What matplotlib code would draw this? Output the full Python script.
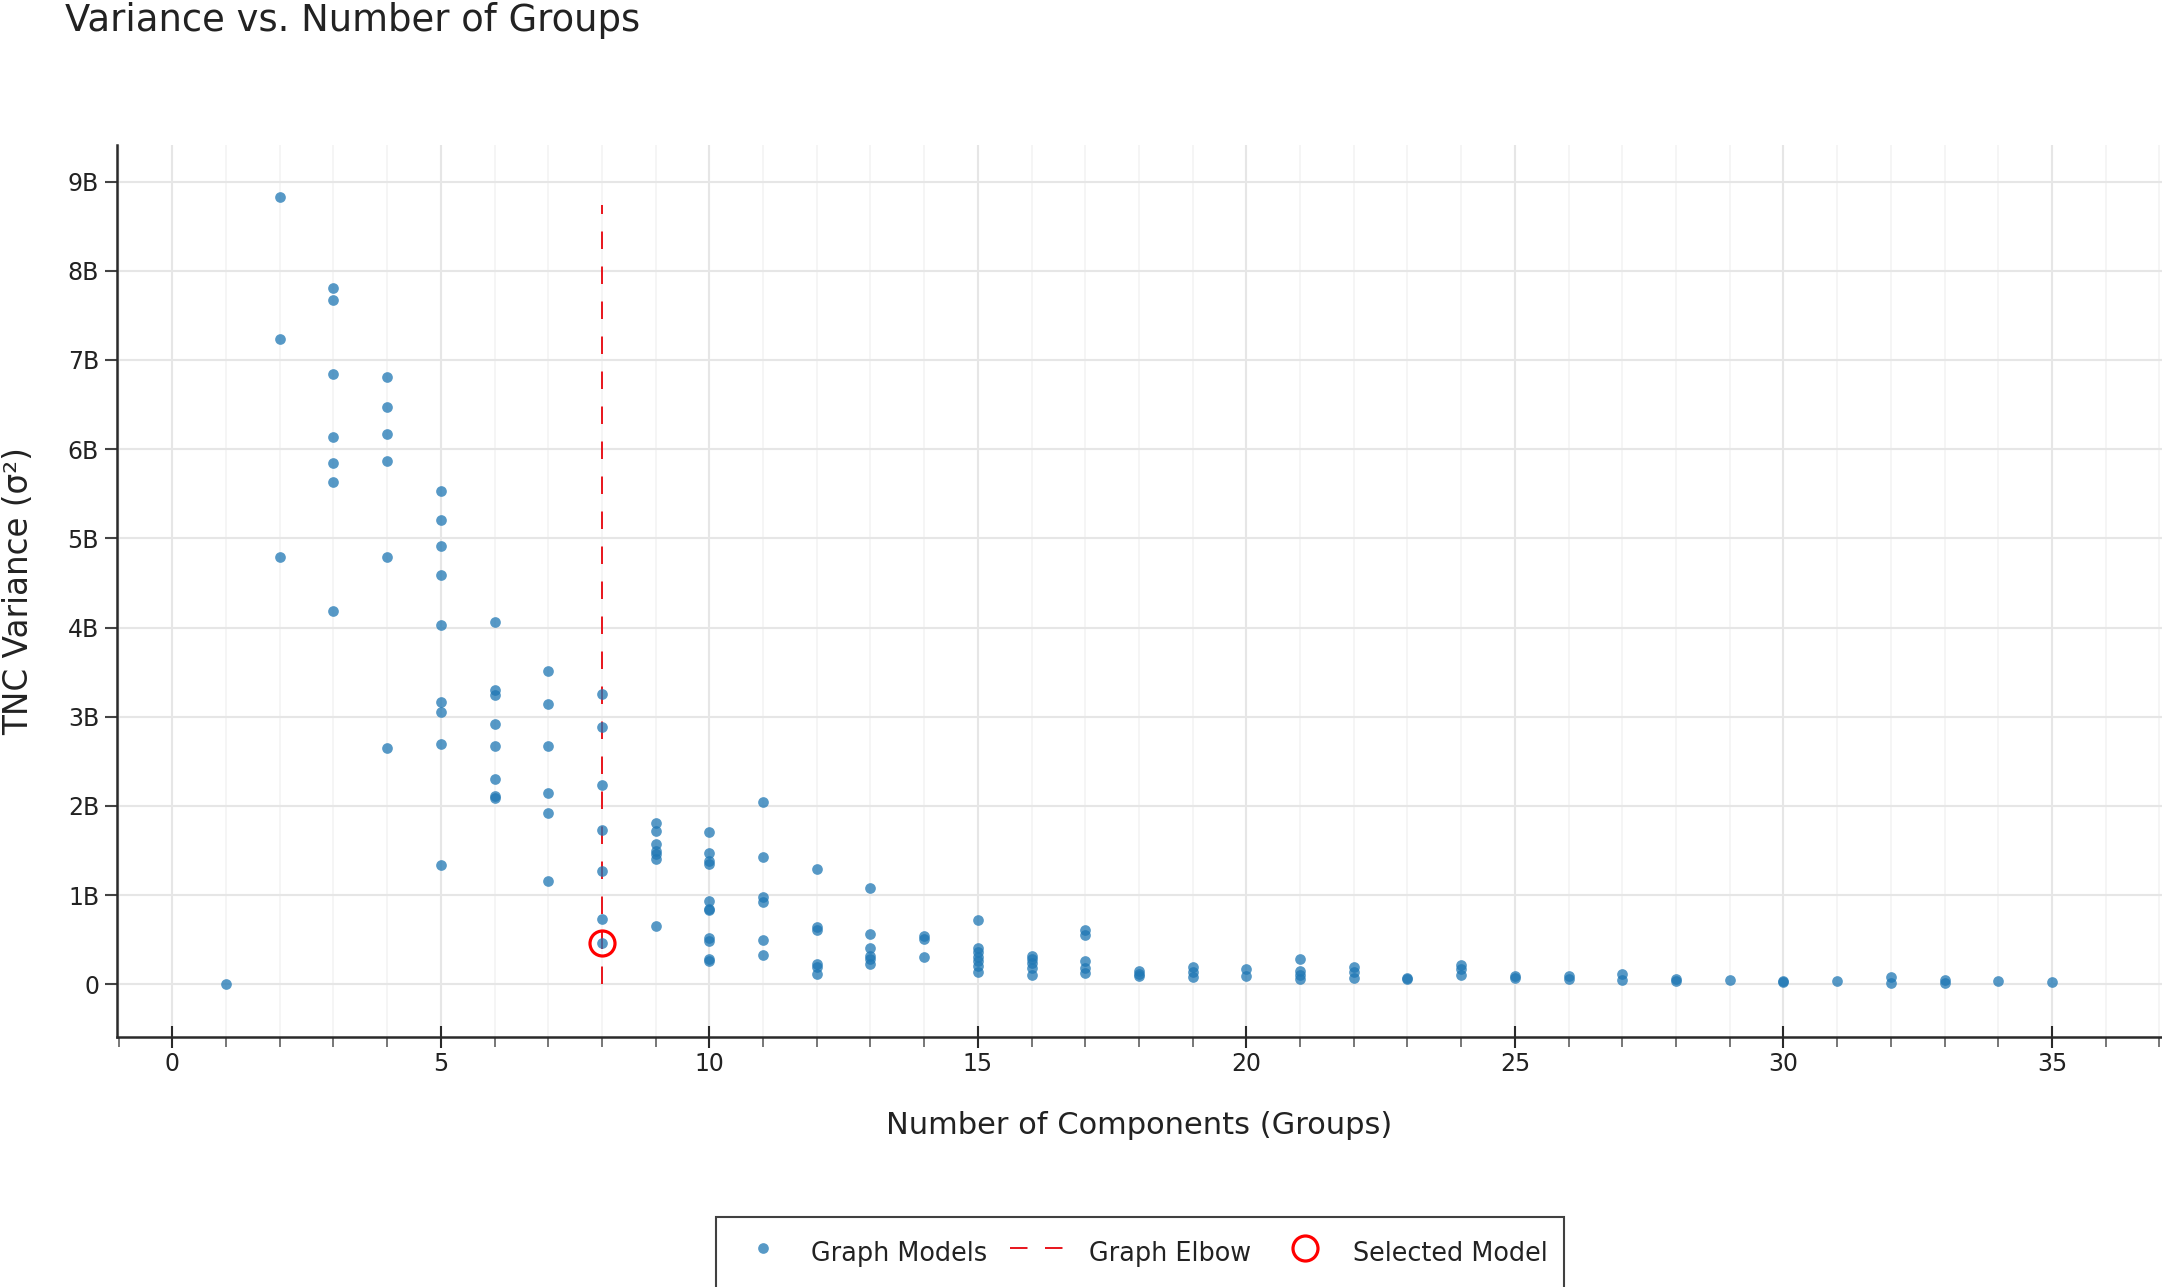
#!/usr/bin/env python3
"""Elbow plot: TNC variance against number of groups."""
import matplotlib
matplotlib.use("Agg")
import matplotlib.pyplot as plt
from matplotlib.lines import Line2D
from matplotlib.ticker import FuncFormatter, MultipleLocator

# number of components (groups) per model column
group_counts = list(range(1, 36))

# TNC variance of every model at each group count, in billions
variance_b = [
    [0.0],
    [8.83, 7.235, 4.79],
    [7.81, 7.67, 6.845, 6.14, 5.84, 5.63, 4.19],
    [6.81, 6.47, 6.17, 5.87, 4.79, 2.65],
    [5.53, 5.21, 4.91, 4.59, 4.03, 3.17, 3.05, 2.70, 1.34],
    [4.06, 3.30, 3.24, 2.92, 2.67, 2.30, 2.11, 2.09],
    [3.51, 3.14, 2.67, 2.14, 1.92, 1.16],
    [3.26, 2.89, 2.23, 1.73, 1.27, 0.73, 0.46],
    [1.81, 1.72, 1.57, 1.49, 1.46, 1.40, 0.65],
    [1.71, 1.47, 1.38, 1.35, 0.93, 0.85, 0.83, 0.52, 0.49, 0.28, 0.26],
    [2.05, 1.43, 0.98, 0.92, 0.50, 0.33],
    [1.29, 0.64, 0.61, 0.23, 0.20, 0.12],
    [1.08, 0.57, 0.41, 0.32, 0.29, 0.23],
    [0.54, 0.51, 0.31],
    [0.72, 0.41, 0.36, 0.31, 0.26, 0.21, 0.14],
    [0.32, 0.29, 0.24, 0.18, 0.11],
    [0.61, 0.55, 0.26, 0.18, 0.13],
    [0.15, 0.12, 0.09],
    [0.19, 0.14, 0.08],
    [0.17, 0.09],
    [0.285, 0.155, 0.10, 0.06],
    [0.20, 0.14, 0.07],
    [0.07, 0.065],
    [0.22, 0.17, 0.10],
    [0.09, 0.07],
    [0.09, 0.06],
    [0.12, 0.045],
    [0.06, 0.035],
    [0.045],
    [0.04, 0.03],
    [0.04],
    [0.08, 0.02],
    [0.045, 0.02],
    [0.035],
    [0.03],
]

elbow_k = 8
elbow_span_b = [0.0, 8.74]
selected_k = 8
selected_var_b = 0.46

W, H = 2162, 1287
fig = plt.figure(figsize=(W / 100, H / 100), dpi=100)
ax = fig.add_axes([117 / W, 1 - 1037 / H, 1 - 117 / W, (1037 - 145) / H])

xs, ys = [], []
for k, vals in zip(group_counts, variance_b):
    for v in vals:
        xs.append(k)
        ys.append(v * 1e9)

ax.plot(xs, ys, "o", ms=7.7, mew=0, color="#1f77b4", alpha=0.75, zorder=3)
ax.plot([elbow_k, elbow_k], [y * 1e9 for y in elbow_span_b], color="#e8141c",
        lw=1.4, dashes=(9, 9), zorder=2)
ax.plot([selected_k], [selected_var_b * 1e9], "o", ms=18, mfc="none",
        mec="#ff0000", mew=2.3, zorder=4)

ax.set_xlim(-1.03, 37.05)
ax.set_ylim(-0.59e9, 9.41e9)

ax.xaxis.set_major_locator(MultipleLocator(5))
ax.xaxis.set_minor_locator(MultipleLocator(1))
ax.yaxis.set_major_locator(MultipleLocator(1e9))
ax.yaxis.set_major_formatter(
    FuncFormatter(lambda v, p: "0" if abs(v) < 1 else f"{v / 1e9:.0f}B"))

ax.grid(which="major", axis="x", color="#e6e6e6", lw=1.5, zorder=0)
ax.grid(which="minor", axis="x", color="#f3f3f3", lw=1.1, zorder=0)
ax.grid(which="major", axis="y", color="#e6e6e6", lw=1.5, zorder=0)
ax.set_axisbelow(True)

for side in ("top", "right"):
    ax.spines[side].set_visible(False)
for side in ("left", "bottom"):
    ax.spines[side].set_color("#2a2a2a")
    ax.spines[side].set_linewidth(1.8)

ax.tick_params(axis="x", which="major", direction="inout", length=16.5,
               width=1.5, color="#2a2a2a", pad=2.5, labelsize=17,
               labelcolor="#222222")
ax.tick_params(axis="x", which="minor", direction="out", length=7.2,
               width=1.4, color="#777777")
ax.tick_params(axis="y", which="major", direction="out", length=8.6,
               width=1.5, color="#444444", pad=4.3, labelsize=17,
               labelcolor="#222222")

ax.set_xlabel("Number of Components (Groups)", fontsize=22, color="#222222")
ax.xaxis.set_label_coords(0.5, -(1125 - 1037) / (1037 - 145))
ax.xaxis.label.set_va("center")
ax.set_ylabel("TNC Variance (σ²)", fontsize=23.5, color="#222222")
ax.yaxis.set_label_coords((19 - 117) / (W - 117), 0.5)
ax.yaxis.label.set_va("center")

fig.text(65 / W, 1 - 31 / H, "Variance vs. Number of Groups", fontsize=26.6,
         color="#222222", va="baseline", ha="left")

handles = [
    Line2D([], [], ls="none", marker="o", ms=7.7, mew=0, color="#1f77b4",
           alpha=0.75),
    Line2D([], [], color="#e8141c", lw=1.4, dashes=(9, 9)),
    Line2D([], [], ls="none", marker="o", ms=18, mfc="none", mec="#ff0000",
           mew=2.3),
]
leg = fig.legend(handles, ["Graph Models", "Graph Elbow", "Selected Model"],
                 loc="upper center", bbox_to_anchor=(1140 / W, 1 - 1217 / H),
                 ncol=3, fontsize=18.4, frameon=True, fancybox=False,
                 handlelength=2.4, handletextpad=0.68, columnspacing=0.9,
                 handleheight=2.0, borderpad=0.65, borderaxespad=0)
leg.get_frame().set_edgecolor("#111111")
leg.get_frame().set_linewidth(1.5)
for t in leg.get_texts():
    t.set_color("#222222")

fig.savefig("out.png", dpi=100)
